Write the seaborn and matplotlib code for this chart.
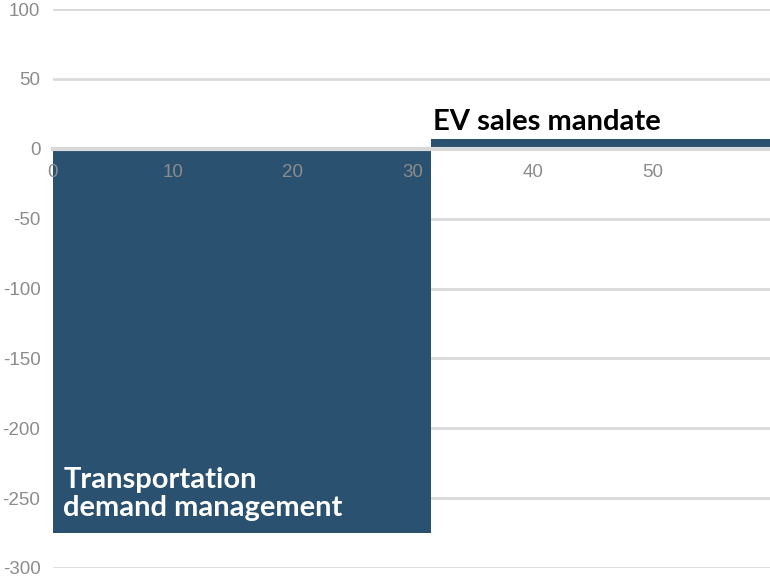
import matplotlib
matplotlib.use("Agg")
import matplotlib.pyplot as plt
import seaborn as sns
import numpy as np
import pandas as pd

measures = ["Transportation\ndemand management", "EV sales mandate"]
widths = [31.5, 28.5]          # abatement (x extent)
costs = [-275, 7]              # cost per unit
x_ticks = [0, 10, 20, 30, 40, 50]
y_ticks = [100, 50, 0, -50, -100, -150, -200, -250, -300]

sns.set_theme(style="white")
plt.rcParams['font.family'] = ['Lato', 'DejaVu Sans']
plt.rcParams['axes.unicode_minus'] = False

edges = [0.0] + list(np.cumsum(widths))
mids = [(edges[i] + edges[i + 1]) / 2 for i in range(len(widths))]
df = pd.DataFrame({"mid": mids, "cost": costs, "measure": measures})

fig = plt.figure(figsize=(7.7, 5.81), dpi=100)
ax = fig.add_axes([53/770, 13/581, 1 - 53/770, (568-9)/581])

bar_color = "#2a5170"
sns.histplot(data=df, x="mid", weights="cost", bins=list(edges), ax=ax,
             color=bar_color, alpha=1, edgecolor="none", linewidth=0, zorder=1)

ax.set_xlim(0, 59.75)
ax.set_ylim(-300, 100)
ax.set_yticks(y_ticks)
ax.set_xticks(x_ticks)
ax.set_xlabel("")
ax.set_ylabel("")
for s in ["top", "right", "left"]:
    ax.spines[s].set_visible(False)
ax.spines["bottom"].set_position(("data", 0))
ax.spines["bottom"].set_color("#d9d9d9")
ax.spines["bottom"].set_linewidth(3)
ax.spines["bottom"].set_zorder(3)
ax.xaxis.set_zorder(5)

for y in y_ticks:
    if y != 0:
        ax.axhline(y, color="#d9d9d9", linewidth=2, zorder=0)

ax.tick_params(axis="both", length=0, labelsize=13.5, labelcolor="#8c8c8c",
               labelfontfamily="Liberation Sans")
ax.tick_params(axis="x", pad=11)
ax.tick_params(axis="y", pad=9)

ax.text(0.85, -262.8, measures[0], color="white", fontsize=21, fontweight="bold",
        ha="left", va="baseline", linespacing=1.1, zorder=4)
ax.text(31.67, 13.4, measures[1], color="black", fontsize=21, fontweight="bold",
        ha="left", va="baseline", zorder=4)

fig.savefig("out.png", dpi=100)
